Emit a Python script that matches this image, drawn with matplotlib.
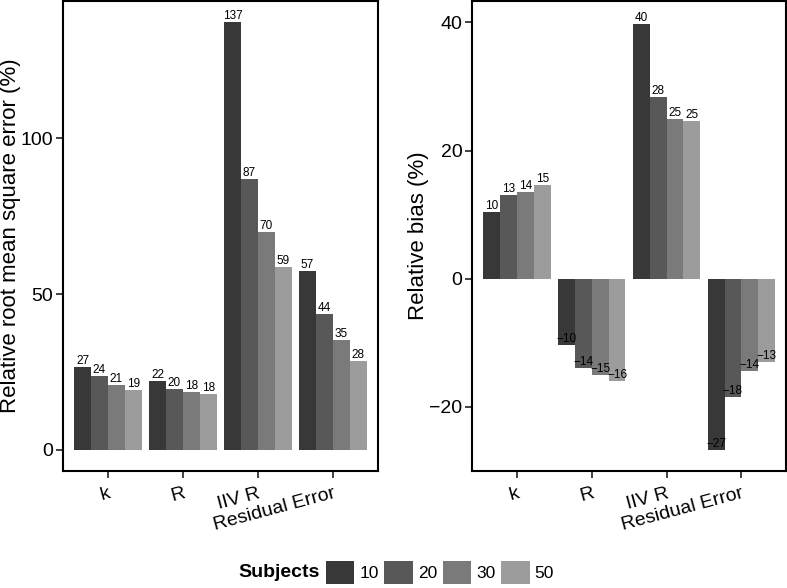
import numpy as np
import matplotlib as mpl
mpl.use("Agg")
from matplotlib import pyplot as plt
from matplotlib.patches import Patch

plt.rcParams['font.family'] = ['Liberation Sans', 'DejaVu Sans']

# 数据：每个参数下 4 个受试者数量 (10, 20, 30, 50) 的值
params = ["k", "R", "IIV R", "Residual Error"]
subjects = ["10", "20", "30", "50"]

rmse_k = [26.6, 23.6, 20.8, 19.1]
rmse_R = [22.2, 19.6, 18.5, 17.9]
rmse_iiv = [137.2, 87.0, 69.9, 58.6]
rmse_res = [57.4, 43.7, 35.2, 28.4]
bias_k = [10.4, 13.0, 13.6, 14.6]
bias_R = [-10.4, -13.9, -15.0, -15.9]
bias_iiv = [39.8, 28.4, 24.9, 24.6]
bias_res = [-26.8, -18.4, -14.4, -13.0]

rmse_all = np.array([rmse_k, rmse_R, rmse_iiv, rmse_res])
bias_all = np.array([bias_k, bias_R, bias_iiv, bias_res])

colors = ['#383838', '#585858', '#7a7a7a', '#9c9c9c']


def fmt(v):
    # 负号用 unicode minus
    return "%d" % round(v) if v >= 0 else "\u2212%d" % round(-v)


def draw(ax, data, ylim, yticks, ylabel):
    n = len(subjects)
    w = 0.9 / n
    x = np.arange(len(params))
    for j in range(n):
        pos = x - 0.45 + w * (j + 0.5)
        ax.bar(pos, data[:, j], width=w, color=colors[j], linewidth=0)
        for p, v in zip(pos, data[:, j]):
            # 标签放在柱子末端
            ax.text(p, v, fmt(v), ha='center', va='bottom', fontsize=8.5)
    ax.set_xlim(-0.6, len(params) - 0.4)
    ax.set_ylim(ylim)
    ax.set_yticks(yticks)
    ax.set_yticklabels([fmt(t) for t in yticks])
    ax.set_xticks(x)
    ax.set_xticklabels(params, rotation=15, ha='right', rotation_mode='anchor')
    ax.set_ylabel(ylabel, fontsize=16, labelpad=0)
    ax.tick_params(axis='both', labelsize=14, length=5, width=1.2, colors='#222222',
                   labelcolor='black', pad=2)
    ax.tick_params(axis='x', pad=5)
    for s in ax.spines.values():
        s.set_linewidth(1.5)


f = plt.figure(figsize=(7.87, 5.88), dpi=100)
ax1 = f.add_axes([0.080, 0.199, 0.400, 0.799])
ax2 = f.add_axes([0.600, 0.199, 0.399, 0.799])

draw(ax1, rmse_all, (-6.8, 144), [0, 50, 100], "Relative root mean square error (%)")
draw(ax2, bias_all, (-30, 43.3), [-20, 0, 20, 40], "Relative bias (%)")

# 图例
handles = [Patch(facecolor=c, edgecolor='none') for c in colors]
f.text(0.406, 0.026, "Subjects", fontsize=14, fontweight='bold', ha='right', va='center')
f.legend(handles, subjects, loc='center left', bbox_to_anchor=(0.414, 0.026),
         ncol=4, frameon=False, fontsize=12.5, handlelength=1.65, handleheight=1.65,
         handletextpad=0.3, columnspacing=0.3, borderpad=0, borderaxespad=0)

f.savefig("out.png", dpi=100)
